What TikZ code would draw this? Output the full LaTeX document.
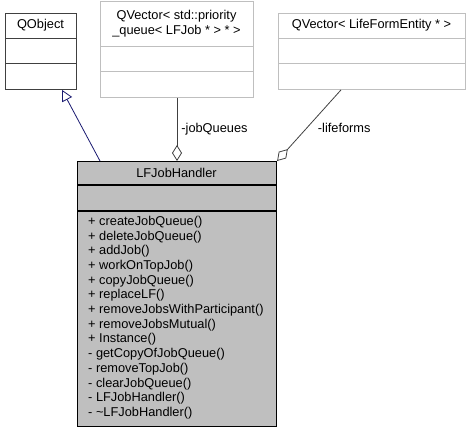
\documentclass[tikz,border=0pt]{standalone}
\usepackage{fontspec}
\setmainfont{Liberation Sans}
\usetikzlibrary{arrows.meta,calc}
\definecolor{hdrgray}{HTML}{BFBFBF}
\definecolor{edgegray}{HTML}{404040}
\definecolor{inhblue}{HTML}{191970}
\begin{document}
\begin{tikzpicture}[x=1pt,y=-1pt,
  classbox/.style={draw, rectangle, anchor=north west, inner sep=0pt, line width=0.9pt},
  extbox/.style={classbox, draw=hdrgray},
  mainbox/.style={classbox, draw=black, fill=hdrgray, line width=1.1pt},
  lbl/.style={font=\fontsize{12.8}{14.7}\selectfont, inner sep=0pt},
  member/.style={lbl, anchor=west},
  inherit/.style={draw=inhblue, line width=0.8pt, -{Triangle[open, length=11pt, width=11pt]}},
  aggreg/.style={draw=edgegray, line width=0.8pt, -{Diamond[open, length=16pt, width=10pt]}},
  ]
\useasboundingbox (0,0) rectangle (470,433);

% QObject
\node[classbox, draw=black!75, minimum width=71pt, minimum height=76pt] (qobj) at (5,13) {};
\draw[black!75, line width=0.9pt] (5,38) -- (76,38) (5,63) -- (76,63);
\node[lbl] (qobjname) at (40.5,25.5) {QObject};

% QVector< std::priority_queue< LFJob * > * >
\node[extbox, minimum width=153pt, minimum height=96pt] (qvjobs) at (100,1) {};
\draw[hdrgray, line width=0.9pt] (100,46) -- (253,46) (100,71) -- (253,71);
\node[lbl, align=center] (qvjobsname) at (176.5,23.5) {QVector< std::priority\\\_queue< LFJob * > * >};

% QVector< LifeFormEntity * >
\node[extbox, minimum width=187pt, minimum height=76pt] (qvlife) at (278,13) {};
\draw[hdrgray, line width=0.9pt] (278,38) -- (465,38) (278,63) -- (465,63);
\node[lbl] (qvlifename) at (371.5,25.5) {QVector< LifeFormEntity * >};

% LFJobHandler
\node[mainbox, minimum width=199pt, minimum height=265pt] (lfj) at (77,161) {};
\draw[black, line width=1.1pt] (77,185) -- (276,185) (77,211) -- (276,211);
\node[lbl] (lfjname) at (176.5,173) {LFJobHandler};
\foreach \m [count=\i from 0] in {
  + createJobQueue(), + deleteJobQueue(), + addJob(), + workOnTopJob(),
  + copyJobQueue(), + replaceLF(), + removeJobsWithParticipant(),
  + removeJobsMutual(), + Instance(), - getCopyOfJobQueue(),
  - removeTopJob(), - clearJobQueue(), - LFJobHandler(), - \textasciitilde LFJobHandler()}
  \node[member] (m\i) at (88,222+14.7*\i) {\m};

% connectors
\coordinate (inhfoot) at ($(lfj.north west)+(23,0)$);
\coordinate (inhtip) at ($(qobj.south west)+(57,0)$);
\draw[inherit] (inhfoot) -- (inhtip);

\coordinate (jqtop) at ($(qvjobs.south west)+(77,0)$);
\coordinate (jqend) at ($(lfj.north west)+(100,0)$);
\draw[aggreg] (jqtop) -- (jqend) node[pos=0.5, right=4pt, lbl] (jqlbl) {-jobQueues};

\coordinate (lftop) at ($(qvlife.south west)+(63,0)$);
\draw[aggreg] (lftop) -- (lfj.north east) node[pos=0.54, right=11pt, lbl] (lflbl) {-lifeforms};
\end{tikzpicture}
\end{document}
